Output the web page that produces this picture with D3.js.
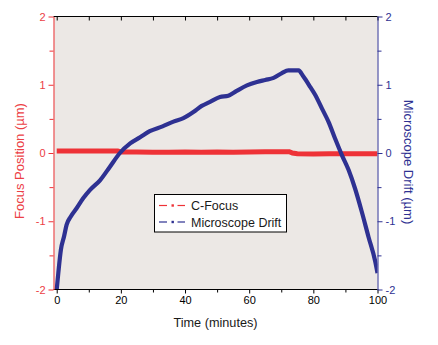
<!DOCTYPE html>
<html>
<head>
<meta charset="utf-8">
<script src="https://cdn.jsdelivr.net/npm/d3@7"></script>
<style>
  html, body { margin: 0; padding: 0; background: #ffffff; }
  svg { display: block; font-family: "Liberation Sans", Arial, sans-serif; }
</style>
</head>
<body>
<svg id="chart" width="438" height="345"></svg>
<script>
// Time axis (minutes) and tick values
const timeTicks = [0, 20, 40, 60, 80, 100];
const timeMinorTicks = [10, 30, 50, 70, 90];
const topTicks = [0, 10, 20, 30, 40, 50, 60, 70, 80, 90, 100];
const posTicks = [2, 1, 0, -1, -2];
const posMinorTicks = [1.5, 0.5, -0.5, -1.5];

// C-Focus: focus position (µm) vs time
const focusTime = [0, 5, 10, 15, 19, 20, 25, 30, 35, 40, 45, 50, 55, 60, 65, 70, 72.5, 73.5, 75, 80, 85, 90, 95, 100];
const focusValue = [0.03, 0.03, 0.03, 0.03, 0.03, 0.015, 0.015, 0.012, 0.012, 0.015, 0.012, 0.015, 0.012, 0.015, 0.02, 0.02, 0.02, 0.0, -0.01, -0.015, -0.012, -0.012, -0.012, -0.012];

// Microscope drift (µm) vs time
const driftTime = [0, 0.5, 1.3, 2.3, 3.1, 4.4, 6.2, 8.3, 10.4, 13.5, 16.6, 19.7, 22.9, 26, 29, 33, 36.4, 39.5, 42.6, 45.2, 47.8, 50.9, 53.5, 56.1, 59.3, 62.4, 65, 67.6, 70.2, 72.2, 75.4, 76.9, 79, 80.6, 82.7, 84.7, 86.8, 88.9, 91, 93, 95.1, 97.2, 99.3, 100];
const driftValue = [-2.0, -1.76, -1.42, -1.22, -1.05, -0.93, -0.81, -0.66, -0.54, -0.40, -0.20, 0.0, 0.14, 0.23, 0.32, 0.39, 0.46, 0.51, 0.60, 0.69, 0.75, 0.82, 0.84, 0.91, 0.99, 1.04, 1.07, 1.10, 1.17, 1.21, 1.21, 1.12, 0.97, 0.85, 0.65, 0.46, 0.21, -0.03, -0.25, -0.52, -0.86, -1.23, -1.59, -1.76];

const seriesNames = ["C-Focus", "Microscope Drift"];

const RED = "#ee3237";
const BLUE = "#2e3192";
const LABEL_RED = "#ec4045";

const svg = d3.select("#chart");
const plotLeft = 53.5, plotRight = 377.5, plotTop = 16.5, plotBottom = 289.5;

const x = d3.scaleLinear().domain([-1, 100]).range([plotLeft, plotRight]);
const yL = d3.scaleLinear().domain([-2, 2]).range([plotBottom, plotTop]);
const yR = d3.scaleLinear().domain([-2, 2]).range([plotBottom, plotTop]);

// plot background
svg.append("rect")
  .attr("x", plotLeft).attr("y", plotTop)
  .attr("width", plotRight - plotLeft).attr("height", plotBottom - plotTop)
  .attr("fill", "#ece8e5");

svg.append("clipPath").attr("id", "plotClip")
  .append("rect")
  .attr("x", plotLeft).attr("y", plotTop)
  .attr("width", plotRight - plotLeft).attr("height", plotBottom - plotTop);

const plot = svg.append("g").attr("clip-path", "url(#plotClip)");

const focusData = focusTime.map((t, i) => [t, focusValue[i]]);
const driftData = driftTime.map((t, i) => [t, driftValue[i]]);

plot.append("path")
  .datum(focusData)
  .attr("d", d3.line().x(d => x(d[0])).y(d => yL(d[1])))
  .attr("fill", "none")
  .attr("stroke", RED)
  .attr("stroke-width", 5);

plot.append("path")
  .datum(driftData)
  .attr("d", d3.line().x(d => x(d[0])).y(d => yR(d[1])).curve(d3.curveMonotoneX))
  .attr("fill", "none")
  .attr("stroke", BLUE)
  .attr("stroke-width", 4.2)
  .attr("stroke-linejoin", "round");

function styleAxis(g, color) {
  g.select(".domain").attr("stroke", color);
  g.selectAll(".tick line").attr("stroke", color);
  g.selectAll(".tick text").attr("fill", color);
}

// bottom axis
const bottomAxis = svg.append("g").attr("transform", `translate(0,${plotBottom})`)
  .call(d3.axisBottom(x).tickValues(timeTicks).tickSize(4).tickPadding(3).tickSizeOuter(0))
  .attr("font-size", 11).attr("font-family", null);
styleAxis(bottomAxis, "#000");
bottomAxis.select(".domain").attr("d", `M${plotLeft},0H${plotRight}`);
svg.append("g").attr("transform", `translate(0,${plotBottom})`)
  .call(d3.axisBottom(x).tickValues(timeMinorTicks).tickSize(3).tickFormat(""))
  .call(g => g.select(".domain").remove())
  .selectAll("line").attr("stroke", "#000");

// top axis (ticks pointing inward)
const topAxis = svg.append("g").attr("transform", `translate(0,${plotTop})`)
  .call(d3.axisBottom(x).tickValues(topTicks).tickSize(4).tickFormat("").tickSizeOuter(0));
styleAxis(topAxis, "#000");
topAxis.select(".domain").attr("d", `M${plotLeft},0H${plotRight}`);

// left axis: focus position
const leftAxis = svg.append("g").attr("transform", `translate(${plotLeft},0)`)
  .call(d3.axisLeft(yL).tickValues(posTicks).tickSize(5).tickPadding(3).tickSizeOuter(0).tickFormat(d3.format("d")))
  .attr("font-size", 11).attr("font-family", null);
styleAxis(leftAxis, RED);
leftAxis.selectAll(".tick text").attr("fill", LABEL_RED);
leftAxis.selectAll(".tick text").text(d => d < 0 ? "-" + Math.abs(d) : d);
svg.append("g").attr("transform", `translate(${plotLeft},0)`)
  .call(d3.axisLeft(yL).tickValues(posMinorTicks).tickSize(4).tickFormat(""))
  .call(g => g.select(".domain").remove())
  .selectAll("line").attr("stroke", RED);

// right axis: microscope drift
const rightAxis = svg.append("g").attr("transform", `translate(${plotRight},0)`)
  .call(d3.axisRight(yR).tickValues(posTicks).tickSize(5).tickPadding(3).tickSizeOuter(0).tickFormat(d3.format("d")))
  .attr("font-size", 11).attr("font-family", null);
styleAxis(rightAxis, BLUE);
rightAxis.selectAll(".tick text").text(d => d < 0 ? "-" + Math.abs(d) : d);
svg.append("g").attr("transform", `translate(${plotRight},0)`)
  .call(d3.axisRight(yR).tickValues(posMinorTicks).tickSize(4).tickFormat(""))
  .call(g => g.select(".domain").remove())
  .selectAll("line").attr("stroke", BLUE);

// axis titles
svg.append("text")
  .attr("x", (plotLeft + plotRight) / 2).attr("y", 327)
  .attr("text-anchor", "middle")
  .attr("font-size", 12.7)
  .attr("fill", "#1a1a1a")
  .text("Time (minutes)");

svg.append("text")
  .attr("transform", `translate(24,161) rotate(-90)`)
  .attr("text-anchor", "middle")
  .attr("font-size", 13)
  .attr("fill", LABEL_RED)
  .text("Focus Position (µm)");

svg.append("text")
  .attr("transform", `translate(404,162) rotate(90)`)
  .attr("text-anchor", "middle")
  .attr("font-size", 13)
  .attr("fill", BLUE)
  .text("Microscope Drift (µm)");

// legend
const legend = svg.append("g");
legend.append("rect")
  .attr("x", 154.5).attr("y", 194.5)
  .attr("width", 132).attr("height", 37.5)
  .attr("fill", "#ffffff").attr("stroke", "#000").attr("stroke-width", 1);

const legendColors = [RED, BLUE];
seriesNames.forEach((name, i) => {
  const cy = 205.5 + i * 16.5;
  const g = legend.append("g");
  g.append("line").attr("x1", 159).attr("x2", 167).attr("y1", cy).attr("y2", cy)
    .attr("stroke", legendColors[i]).attr("stroke-width", 1.2);
  g.append("rect").attr("x", 171.5).attr("y", cy - 1.2).attr("width", 2.4).attr("height", 2.4)
    .attr("fill", legendColors[i]);
  g.append("line").attr("x1", 177.5).attr("x2", 185).attr("y1", cy).attr("y2", cy)
    .attr("stroke", legendColors[i]).attr("stroke-width", 1.2);
  g.append("text").attr("x", 191).attr("y", cy + 4.5)
    .attr("font-size", 12.5).attr("fill", "#1a1a1a")
    .text(name);
});
</script>
</body>
</html>
